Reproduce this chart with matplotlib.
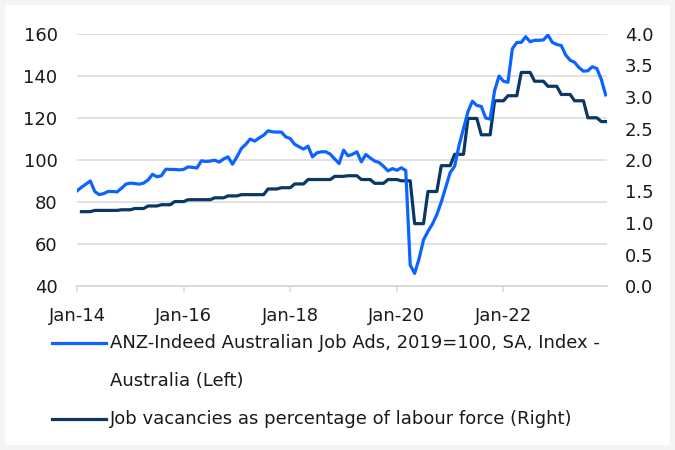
import numpy as np
import matplotlib
matplotlib.use('Agg')
import matplotlib.pyplot as plt
from matplotlib.patches import Rectangle
from matplotlib.lines import Line2D

# ANZ-Indeed job ads index, monthly Jan-14 .. Dec-23 (left axis)
job_ads = [85.3, 87.0, 88.5, 90.0, 85.0, 83.5, 84.0, 85.0, 85.0, 84.8, 86.5, 88.5,
           89.0, 88.8, 88.5, 89.0, 90.5, 93.2, 92.0, 92.5, 95.6, 95.5, 95.5, 95.3,
           95.5, 96.7, 96.5, 96.2, 99.6, 99.3, 99.5, 99.9, 99.0, 100.5, 101.5, 98.0,
           101.5, 105.5, 107.5, 110.0, 109.0, 110.5, 111.8, 113.9, 113.4, 113.3, 113.3, 111.0,
           110.2, 107.5, 106.3, 105.2, 106.6, 101.5, 103.4, 103.9, 103.9, 102.8, 100.5, 98.3,
           104.7, 102.0, 102.7, 103.9, 99.1, 102.6, 101.0, 99.5, 98.8, 97.0, 94.8, 95.9,
           95.1, 96.3, 95.0, 50.0, 46.0, 53.0, 62.0, 66.0, 69.5, 74.0, 80.0, 87.0,
           94.0, 97.0, 107.0, 115.0, 123.0, 128.0, 126.0, 125.5, 120.0, 119.5, 133.0, 140.0,
           137.5, 137.0, 153.0, 156.0, 156.0, 158.7, 156.3, 157.0, 157.0, 157.2, 159.5, 156.0,
           155.0, 154.5, 150.0, 147.5, 146.5, 144.0, 142.3, 142.5, 144.4, 143.6, 138.5, 131.0]

# job vacancies as % of labour force, quarterly Feb-14 .. Nov-23 (right axis)
vacancies_q = [1.18, 1.20, 1.20, 1.21, 1.23, 1.27, 1.29, 1.34,
               1.37, 1.37, 1.40, 1.43, 1.45, 1.45, 1.54, 1.56,
               1.62, 1.69, 1.69, 1.74, 1.75, 1.69, 1.63, 1.69,
               1.67, 0.99, 1.50, 1.91, 2.09, 2.66, 2.40, 2.94,
               3.02, 3.39, 3.25, 3.17, 3.04, 2.94, 2.67, 2.61]

tick_labels = ['Jan-14', 'Jan-16', 'Jan-18', 'Jan-20', 'Jan-22']
label_ads = 'ANZ-Indeed Australian Job Ads, 2019=100, SA, Index -\nAustralia (Left)'
label_vac = 'Job vacancies as percentage of labour force (Right)'

blue = '#0a64ff'
navy = '#0a3765'
grey = '#d9d9d9'
txt = '#1a1a1a'

plt.rcParams['font.family'] = ['DejaVu Sans']
plt.rc('font', size=13)

fig = plt.figure(figsize=(6.75, 4.5), dpi=100)
fig.patch.set_facecolor('#f3f4f6')
fig.add_artist(Rectangle((5 / 675, 5 / 450), 665 / 675, 440 / 450,
                         transform=fig.transFigure, facecolor='white',
                         edgecolor='none', zorder=-1))

# ax: grid, left ticks and x axis; ax2: right axis (vacancies); ax3: job ads on top
ax = fig.add_axes([77 / 675, 1 - 286 / 450, 530 / 675, 252 / 450])
ax2 = ax.twinx()
ax3 = ax.twinx()

# monthly x positions (months since Jan-14)
x_ads = np.arange(len(job_ads))
# quarterly figures are held for three months, starting Feb-14
vac_monthly = np.repeat(vacancies_q, 3)[:len(job_ads) - 1]
x_vac = np.arange(1, len(vac_monthly) + 1)

ax2.plot(x_vac, vac_monthly, color=navy, lw=2.3)
ax3.plot(x_ads, job_ads, color=blue, lw=2.3)

ax.set_xlim(0, 119.3)
ax.set_ylim(40, 160)
ax.set_yticks(np.arange(40, 161, 20))
ax3.set_ylim(40, 160)
ax3.set_yticks([])
ax2.set_ylim(0, 4)
ax2.set_yticks(np.arange(0, 4.01, 0.5))
ax2.set_yticklabels(['%.1f' % v for v in np.arange(0, 4.01, 0.5)])

ax.set_xticks([0, 24, 48, 72, 96])
ax.set_xticklabels(tick_labels)

ax.grid(axis='y', color=grey, lw=1.1)
ax.set_axisbelow(True)
for a in (ax, ax2, ax3):
    for s in ('top', 'left', 'right'):
        a.spines[s].set_visible(False)
    a.spines['bottom'].set_color(grey)
    a.spines['bottom'].set_linewidth(1.1)

ax.tick_params(axis='y', length=0, pad=14, colors=txt)
ax2.tick_params(axis='y', length=0, pad=13, colors=txt)
ax.tick_params(axis='x', length=4, width=1.1, color=grey, pad=11, labelcolor=txt)

# legend below the chart
fig.add_artist(Line2D([52 / 675, 106 / 675], [1 - 343 / 450] * 2, color=blue, lw=2.3,
                      transform=fig.transFigure))
fig.add_artist(Line2D([52 / 675, 106 / 675], [1 - 419 / 450] * 2, color=navy, lw=2.3,
                      transform=fig.transFigure))
fig.text(110 / 675, 1 - 343 / 450, label_ads.split('\n')[0], va='center', color=txt)
fig.text(110 / 675, 1 - 381 / 450, label_ads.split('\n')[1], va='center', color=txt)
fig.text(110 / 675, 1 - 419 / 450, label_vac, va='center', color=txt)

plt.savefig('out.png', dpi=100, facecolor=fig.get_facecolor())
